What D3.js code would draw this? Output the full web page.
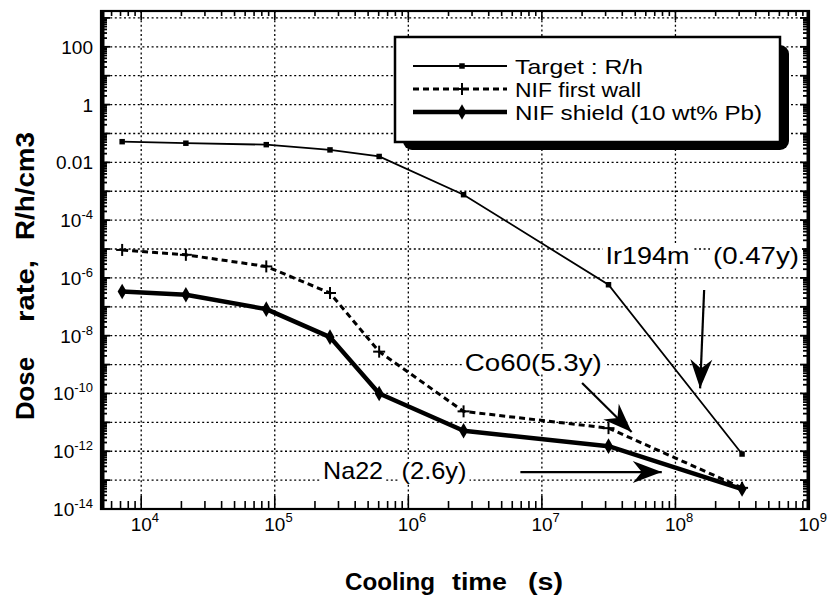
<!DOCTYPE html>
<html>
<head>
<meta charset="utf-8">
<script src="https://cdn.jsdelivr.net/npm/d3@7/dist/d3.min.js"></script>
<style>
  html, body { margin: 0; padding: 0; background: #fff; }
  svg { display: block; font-family: "Liberation Sans", Arial, Helvetica, sans-serif; }
</style>
</head>
<body>
<svg id="chart" width="828" height="602"></svg>
<script>
// ---------- data ----------
const coolingTimes = [7200, 21600, 86400, 259200, 604800, 2592000, 31536000, 315360000];
const targetRate   = [0.052, 0.046, 0.041, 0.027, 0.016, 7.6e-4, 5.8e-7, 8e-13];
const firstWall    = [9.3e-6, 6.3e-6, 2.5e-6, 3e-7, 2.8e-9, 2.4e-11, 6.3e-12, 5.4e-14];
const shieldRate   = [3.4e-7, 2.6e-7, 8.3e-8, 8.9e-9, 1.0e-10, 5.1e-12, 1.5e-12, 4.9e-14];

const legendLabels = ["Target : R/h", "NIF first wall", "NIF shield (10 wt% Pb)"];
const xTickValues  = [1e4, 1e5, 1e6, 1e7, 1e8, 1e9];
const yLabelValues = [1e2, 1, 1e-2, 1e-4, 1e-6, 1e-8, 1e-10, 1e-12, 1e-14];

// annotation labels and arrows (data space)
const noteLabels = [
  { text: "Ir194m",  x: 3.0e7, y: 3.0e-6,  len: 84 },
  { text: "(0.47y)", x: 1.91e8, y: 3.0e-6, len: 86 },
  { text: "Co60(5.3y)", x: 2.65e6, y: 6.0e-10, len: 137 },
  { text: "Na22",    x: 2.3e5, y: 1.1e-13, len: 60 },
  { text: "(2.6y)",  x: 8.9e5, y: 1.1e-13, len: 65 }
];
const noteArrows = [
  { x1: 1.64e8, y1: 3.8e-7,  x2: 1.53e8, y2: 1.5e-10 },
  { x1: 2.0e7,  y1: 2.3e-10, x2: 4.7e7,  y2: 4.6e-12 },
  { x1: 6.9e6,  y1: 1.9e-13, x2: 7.9e7,  y2: 1.9e-13 }
];

// ---------- layout ----------
const L = 101, R = 809, T = 11, B = 509;
const svg = d3.select("#chart");
const x = d3.scaleLog().domain([5000, 1e9]).range([L, R]);
const y = d3.scaleLog().domain([1e-14, Math.pow(10, 3.24)]).range([B, T]);

// ---------- grid ----------
const gridX = [1e4, 1e5, 1e6, 1e7, 1e8];
const gridY = d3.range(-13, 4).map(e => Math.pow(10, e));
const grid = svg.append("g").attr("stroke", "#000").attr("stroke-width", 1.3)
  .attr("stroke-dasharray", "2,2.6");
grid.selectAll(".gx").data(gridX).join("line")
  .attr("x1", d => x(d)).attr("x2", d => x(d)).attr("y1", T).attr("y2", B);
grid.selectAll(".gy").data(gridY).join("line")
  .attr("x1", L).attr("x2", R).attr("y1", d => y(d)).attr("y2", d => y(d));

// ---------- minor / major ticks ----------
const xMinor = [];
for (let e = 3; e <= 8; e++) for (let m = 1; m <= 9; m++) {
  const v = m * Math.pow(10, e);
  if (v >= 5000 && v <= 1e9) xMinor.push({ v, major: m === 1 });
}
const yMinor = [];
for (let e = -14; e <= 3; e++) for (let m = 1; m <= 9; m++) {
  const v = m * Math.pow(10, e);
  if (v >= 1e-14 && v <= Math.pow(10, 3.24)) yMinor.push({ v, major: m === 1 });
}
const tk = svg.append("g").attr("stroke", "#000");
tk.selectAll(".tb").data(xMinor).join("line")
  .attr("stroke-width", 1.6)
  .attr("x1", d => x(d.v)).attr("x2", d => x(d.v))
  .attr("y1", B).attr("y2", d => B - (d.major ? 13 : 8));
tk.selectAll(".tt").data(xMinor).join("line")
  .attr("stroke-width", 1.6)
  .attr("x1", d => x(d.v)).attr("x2", d => x(d.v))
  .attr("y1", T).attr("y2", d => T + (d.major ? 9 : 5));
tk.selectAll(".tl").data(yMinor).join("line")
  .attr("stroke-width", 1.8)
  .attr("y1", d => y(d.v)).attr("y2", d => y(d.v))
  .attr("x1", L).attr("x2", d => L + (d.major ? 9 : 6));
tk.selectAll(".tr").data(yMinor).join("line")
  .attr("stroke-width", 1.8)
  .attr("y1", d => y(d.v)).attr("y2", d => y(d.v))
  .attr("x1", R).attr("x2", d => R - (d.major ? 9 : 6));

// frame
svg.append("rect").attr("x", L).attr("y", T).attr("width", R - L).attr("height", B - T)
  .attr("fill", "none").attr("stroke", "#000").attr("stroke-width", 2.2);
svg.append("line").attr("x1", L + 1.5).attr("x2", L + 1.5).attr("y1", T).attr("y2", B)
  .attr("stroke", "#000").attr("stroke-width", 4);
svg.append("line").attr("x1", R - 1).attr("x2", R - 1).attr("y1", T).attr("y2", B)
  .attr("stroke", "#000").attr("stroke-width", 3);

// ---------- tick labels ----------
const yl = svg.append("g").attr("font-size", 19).attr("fill", "#000");
yLabelValues.forEach(v => {
  const e = Math.round(Math.log10(v));
  const t = yl.append("text").attr("x", 93).attr("y", y(v) + 7).attr("text-anchor", "end");
  if (e >= -2) {
    t.text(e === 2 ? "100" : e === 0 ? "1" : "0.01");
  } else {
    t.append("tspan").text("10");
    t.append("tspan").attr("font-size", 13).attr("dy", -8).text(String(e));
  }
});
const xl = svg.append("g").attr("font-size", 19).attr("fill", "#000");
xTickValues.forEach(v => {
  const e = Math.round(Math.log10(v));
  const t = xl.append("text").attr("x", x(v) - 10.5).attr("y", 531);
  t.append("tspan").text("10");
  t.append("tspan").attr("font-size", 13).attr("dy", -9).text(String(e));
});

// ---------- axis titles ----------
const titleWords = [
  { t: "Cooling", x0: 345, len: 90 },
  { t: "time", x0: 452, len: 55 },
  { t: "(s)", x0: 528, len: 35 }
];
titleWords.forEach(w => {
  svg.append("text").attr("x", w.x0).attr("y", 590).attr("font-size", 23)
    .attr("font-weight", "bold").attr("textLength", w.len)
    .attr("lengthAdjust", "spacingAndGlyphs").text(w.t);
});
const yTitleWords = [
  { t: "Dose", y0: 420, len: 63 },
  { t: "rate,", y0: 322, len: 62 },
  { t: "R/h/cm3", y0: 240, len: 108 }
];
yTitleWords.forEach(w => {
  svg.append("text").attr("transform", `translate(34,${w.y0}) rotate(-90)`)
    .attr("font-size", 25).attr("font-weight", "bold")
    .attr("textLength", w.len).attr("lengthAdjust", "spacingAndGlyphs").text(w.t);
});

// ---------- series ----------
const pts = vals => coolingTimes.map((t, i) => [t, vals[i]]);
const line = d3.line().x(d => x(d[0])).y(d => y(d[1]));

svg.append("path").datum(pts(targetRate)).attr("d", line)
  .attr("fill", "none").attr("stroke", "#000").attr("stroke-width", 1.8);
svg.append("path").datum(pts(firstWall)).attr("d", line)
  .attr("fill", "none").attr("stroke", "#000").attr("stroke-width", 3)
  .attr("stroke-dasharray", "6,4");
svg.append("path").datum(pts(shieldRate)).attr("d", line)
  .attr("fill", "none").attr("stroke", "#000").attr("stroke-width", 4.5)
  .attr("stroke-linejoin", "round");

const sym = {
  target: d3.symbol().type(d3.symbolSquare).size(30),
  shield: d3.symbol().type(d3.symbolDiamond).size(70)
};
svg.append("g").selectAll("path").data(pts(targetRate)).join("path")
  .attr("transform", d => `translate(${x(d[0])},${y(d[1])})`)
  .attr("d", sym.target()).attr("fill", "#000");
const plus = (g, cx, cy, s) => {
  g.append("line").attr("x1", cx - s).attr("x2", cx + s).attr("y1", cy).attr("y2", cy);
  g.append("line").attr("x1", cx).attr("x2", cx).attr("y1", cy - s).attr("y2", cy + s);
};
const pg = svg.append("g").attr("stroke", "#000").attr("stroke-width", 2);
pts(firstWall).forEach(d => plus(pg, x(d[0]), y(d[1]), 6));
svg.append("g").selectAll("path").data(pts(shieldRate)).join("path")
  .attr("transform", d => `translate(${x(d[0])},${y(d[1])})`)
  .attr("d", sym.shield()).attr("fill", "#000");

// ---------- annotations ----------
noteLabels.forEach(n => {
  const g = svg.append("g");
  const t = g.append("text").attr("x", x(n.x)).attr("y", y(n.y)).attr("font-size", 24)
    .attr("textLength", n.len).attr("lengthAdjust", "spacingAndGlyphs").text(n.text);
  const bb = t.node().getBBox();
  g.insert("rect", "text").attr("x", bb.x - 3).attr("y", bb.y + 2)
    .attr("width", bb.width + 6).attr("height", bb.height - 4).attr("fill", "#fff");
});
function arrowHead(x1, y1, x2, y2, len, half, notch) {
  const a = Math.atan2(y2 - y1, x2 - x1);
  const ux = Math.cos(a), uy = Math.sin(a), px = -uy, py = ux;
  const bx = x2 - ux * len, by = y2 - uy * len;
  const nx = x2 - ux * (len - notch), ny = y2 - uy * (len - notch);
  return `M${x2},${y2}L${bx + px * half},${by + py * half}L${nx},${ny}L${bx - px * half},${by - py * half}Z`;
}
noteArrows.forEach(a => {
  const X1 = x(a.x1), Y1 = y(a.y1), X2 = x(a.x2), Y2 = y(a.y2);
  svg.append("line").attr("x1", X1).attr("y1", Y1).attr("x2", X2).attr("y2", Y2)
    .attr("stroke", "#000").attr("stroke-width", 2.2);
  svg.append("path").attr("d", arrowHead(X1, Y1, X2, Y2, 29, 11, 9)).attr("fill", "#000");
});

// ---------- legend ----------
const lg = svg.append("g");
lg.append("rect").attr("x", 403).attr("y", 45).attr("width", 386).attr("height", 105)
  .attr("rx", 9).attr("fill", "#000");
lg.append("rect").attr("x", 395).attr("y", 37).attr("width", 385).attr("height", 105)
  .attr("fill", "#fff").attr("stroke", "#000").attr("stroke-width", 2.5);
const rowsY = [66, 89, 112];
// row 1
lg.append("line").attr("x1", 413).attr("x2", 507).attr("y1", rowsY[0]).attr("y2", rowsY[0])
  .attr("stroke", "#000").attr("stroke-width", 1.8);
lg.append("path").attr("transform", `translate(462,${rowsY[0]})`).attr("d", sym.target()).attr("fill", "#000");
// row 2
lg.append("line").attr("x1", 413).attr("x2", 507).attr("y1", rowsY[1]).attr("y2", rowsY[1])
  .attr("stroke", "#000").attr("stroke-width", 3).attr("stroke-dasharray", "6,4");
const lp = lg.append("g").attr("stroke", "#000").attr("stroke-width", 2);
plus(lp, 462, rowsY[1], 6);
// row 3
lg.append("line").attr("x1", 413).attr("x2", 507).attr("y1", rowsY[2]).attr("y2", rowsY[2])
  .attr("stroke", "#000").attr("stroke-width", 4.5);
lg.append("path").attr("transform", `translate(462,${rowsY[2]})`).attr("d", sym.shield()).attr("fill", "#000");
const legendLens = [128, 126, 247];
legendLabels.forEach((s, i) => {
  lg.append("text").attr("x", 515).attr("y", rowsY[i] + 8).attr("font-size", 21)
    .attr("textLength", legendLens[i]).attr("lengthAdjust", "spacingAndGlyphs").text(s);
});
</script>
</body>
</html>
